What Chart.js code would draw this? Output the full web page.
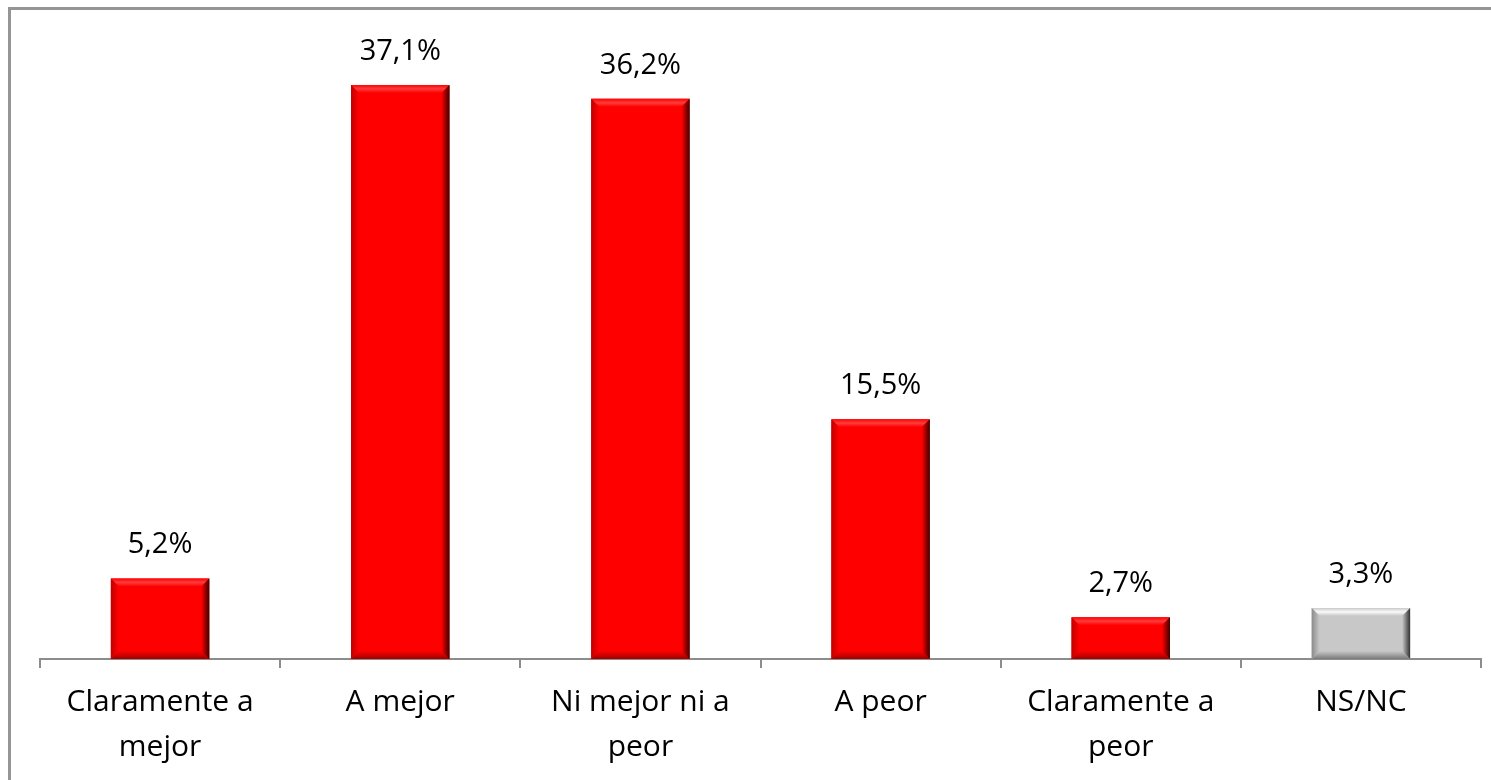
<!DOCTYPE html>
<html lang="es">
<head>
  <meta charset="UTF-8" />
  <title>Valoración</title>
  <script src="https://cdn.jsdelivr.net/npm/chart.js"></script>
  <style>
    html, body { margin: 0; padding: 0; background: #fff; overflow: hidden; }
    #wrap { position: relative; width: 1491px; height: 780px; }
    #frame {
      position: absolute; left: 8px; top: 7px;
      width: 1500px; height: 800px;
      border-top: 3px solid #959595; border-left: 3px solid #959595;
      pointer-events: none;
    }
    canvas { display: block; }
  </style>
</head>
<body>
  <div id="wrap">
    <canvas id="chart" width="1491" height="780"></canvas>
    <div id="frame"></div>
  </div>

  <script>
  const categories = [
    ["Claramente a", "mejor"],
    "A mejor",
    ["Ni mejor ni a", "peor"],
    "A peor",
    ["Claramente a", "peor"],
    "NS/NC"
  ];
  const values = [5.2, 37.1, 36.2, 15.5, 2.7, 3.3];
  const barColors = ["#ff0000", "#ff0000", "#ff0000", "#ff0000", "#ff0000", "#c8c8c8"];

  // bevel shades per bar: [top, left, right, bottom]
  const bevels = {
    "#ff0000": ["#ff3c3c", "#c00000", "#3a0000", "#9c0000"],
    "#c8c8c8": ["#fafafa", "#8a8a8a", "#303030", "#7a7a7a"]
  };

  const bevelPlugin = {
    id: "bevel",
    afterDatasetsDraw(chart) {
      const ctx = chart.ctx;
      const meta = chart.getDatasetMeta(0);
      meta.data.forEach((bar, i) => {
        const w = bar.width;
        const l = bar.x - w / 2, r = bar.x + w / 2;
        const t = bar.y, b = bar.base;
        const d = Math.min(8, (b - t) / 2);
        const s = bevels[barColors[i]];
        const poly = (pts, c) => {
          ctx.beginPath();
          ctx.moveTo(pts[0][0], pts[0][1]);
          for (let k = 1; k < pts.length; k++) ctx.lineTo(pts[k][0], pts[k][1]);
          ctx.closePath();
          ctx.fillStyle = c;
          ctx.fill();
        };
        ctx.save();
        const gt = ctx.createLinearGradient(0, t, 0, t + d);
        gt.addColorStop(0, barColors[i]); gt.addColorStop(0.5, s[0]); gt.addColorStop(1, barColors[i]);
        poly([[l, t], [r, t], [r - d, t + d], [l + d, t + d]], gt);
        const gb = ctx.createLinearGradient(0, b - d, 0, b);
        gb.addColorStop(0, barColors[i]); gb.addColorStop(1, s[3]);
        poly([[l, b], [r, b], [r - d, b - d], [l + d, b - d]], gb);
        const gl = ctx.createLinearGradient(l, 0, l + d, 0);
        gl.addColorStop(0, s[1]); gl.addColorStop(1, barColors[i]);
        poly([[l, t], [l + d, t + d], [l + d, b - d], [l, b]], gl);
        const gr = ctx.createLinearGradient(r - d, 0, r, 0);
        gr.addColorStop(0, barColors[i]); gr.addColorStop(1, s[2]);
        poly([[r, t], [r - d, t + d], [r - d, b - d], [r, b]], gr);
        ctx.restore();
      });
    }
  };

  const valueLabels = {
    id: "valueLabels",
    afterDatasetsDraw(chart) {
      const ctx = chart.ctx;
      const meta = chart.getDatasetMeta(0);
      ctx.save();
      ctx.font = "29px 'Open Sans', sans-serif";
      ctx.fillStyle = "#000";
      ctx.textAlign = "center";
      ctx.textBaseline = "bottom";
      meta.data.forEach((bar, i) => {
        ctx.fillText(values[i].toFixed(1).replace(".", ",") + "%", bar.x, bar.y - 19);
      });
      ctx.restore();
    }
  };

  new Chart(document.getElementById("chart"), {
    type: "bar",
    data: {
      labels: categories,
      datasets: [{
        data: values,
        backgroundColor: barColors,
        borderWidth: 0,
        barPercentage: 1,
        categoryPercentage: 0.41
      }]
    },
    options: {
      responsive: false,
      animation: false,
      layout: { padding: { left: 40, right: 10, top: 40, bottom: 0 } },
      plugins: { legend: { display: false }, tooltip: { enabled: false } },
      scales: {
        y: { display: false, min: 0, max: 40 },
        x: {
          afterFit(scale) { scale.height = 121; },
          grid: {
            drawOnChartArea: false,
            drawTicks: true,
            tickLength: 9,
            color: "#8c8c8c",
            lineWidth: 2,
            offset: true
          },
          border: { color: "#8c8c8c", width: 2 },
          ticks: {
            color: "#000",
            padding: 12,
            maxRotation: 0,
            font: { family: "'Open Sans', sans-serif", size: 30, lineHeight: 1.5 }
          }
        }
      }
    },
    plugins: [bevelPlugin, valueLabels]
  });
  </script>
</body>
</html>
